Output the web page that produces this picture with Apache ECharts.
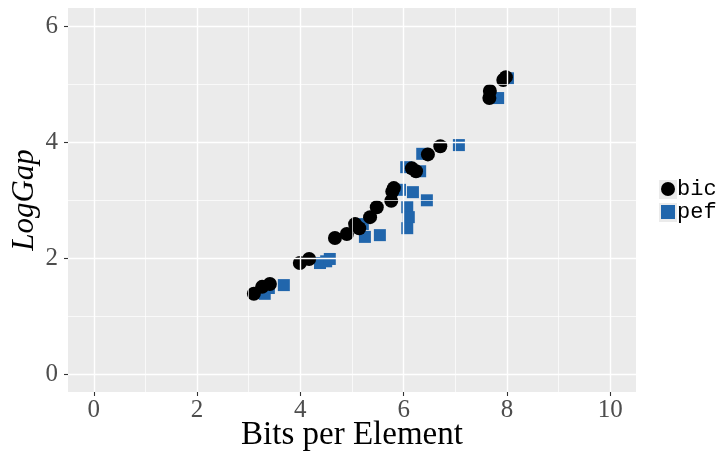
<!DOCTYPE html>
<html>
<head>
<meta charset="utf-8">
<script src="https://cdn.jsdelivr.net/npm/echarts@6/dist/echarts.min.js"></script>
<style>
  html, body { margin: 0; padding: 0; background: #fff; }
  #chart { width: 719px; height: 451px; }
</style>
</head>
<body>
<div id="chart"></div>
<script>
// 数据：从图上读出来的点 (Bits per Element, LogGap)
const bicX = [3.10, 3.26, 3.41, 3.99, 4.17, 4.67, 4.90, 5.06, 5.14, 5.35, 5.48,
              5.76, 5.78, 5.81, 6.16, 6.24, 6.47, 6.71, 7.66, 7.67, 7.93, 7.98];
const bicY = [1.39, 1.51, 1.56, 1.92, 1.99, 2.35, 2.42, 2.59, 2.52, 2.71, 2.88,
              2.99, 3.15, 3.21, 3.55, 3.50, 3.79, 3.93, 4.76, 4.88, 5.07, 5.12];
const pefX = [3.31, 3.39, 3.68, 4.38, 4.50, 4.57, 5.21, 5.25, 5.54, 5.93, 6.05,
              6.18, 6.07, 6.10, 6.07, 6.45, 6.32, 6.36, 7.07, 7.83, 8.02];
const pefY = [1.39, 1.49, 1.54, 1.92, 1.95, 1.99, 2.59, 2.37, 2.40, 3.18, 3.57,
              3.14, 2.88, 2.71, 2.52, 3.00, 3.50, 3.80, 3.95, 4.76, 5.10];
const xTicks = [0, 2, 4, 6, 8, 10];
const xMinor = [1, 3, 5, 7, 9];
const yTicks = [0, 2, 4, 6];
const yMinor = [1, 3, 5];

const zip = (xs, ys) => xs.map((x, i) => [x, ys[i]]);

// 网格线用 markLine 画（主线粗一点，次线细一点）
const gridLines = [].concat(
    xTicks.map(v => ({ xAxis: v, lineStyle: { width: 1.4 } })),
    xMinor.map(v => ({ xAxis: v, lineStyle: { width: 0.7 } })),
    yTicks.map(v => ({ yAxis: v, lineStyle: { width: 1.4 } })),
    yMinor.map(v => ({ yAxis: v, lineStyle: { width: 0.7 } }))
);

const serif = 'Liberation Serif';
const labelStyle = { color: '#4d4d4d', fontSize: 25, fontFamily: serif };
// 轴线不画，但不能贴在 0 上，否则刻度跑到面板里
const noLine = { show: false, onZero: false };
const tickStyle = { show: true, length: 4, lineStyle: { color: '#333333', width: 1.1 } };

let chart = echarts.init(document.getElementById('chart'));
chart.setOption({
    animation: false,
    grid: {
        left: 68, right: 83, top: 8, bottom: 59,
        outerBoundsMode: 'none', containLabel: false,
        show: true, backgroundColor: '#ebebeb', borderWidth: 0
    },
    // 图例键的灰色底块
    graphic: [
        { type: 'rect', left: 659, top: 180, shape: { width: 18, height: 19 }, style: { fill: '#ebebeb' }, silent: true },
        { type: 'rect', left: 659, top: 203, shape: { width: 18, height: 19 }, style: { fill: '#ebebeb' }, silent: true }
    ],
    legend: {
        orient: 'vertical',
        left: 661, top: 178, padding: 0,
        itemWidth: 14, itemHeight: 14, itemGap: 1,
        textStyle: { fontFamily: 'Liberation Mono', fontSize: 22, lineHeight: 22, color: '#000', padding: [0, 0, 0, -3] },
        data: [{ name: 'bic', icon: 'circle' }, { name: 'pef', icon: 'rect' }]
    },
    xAxis: {
        type: 'value', min: -0.5, max: 10.5,
        name: 'Bits per Element', nameLocation: 'middle', nameGap: 27, nameMoveOverlap: false,
        nameTextStyle: { fontFamily: serif, fontSize: 33, color: '#000' },
        axisLine: noLine,
        axisTick: { ...tickStyle, customValues: xTicks },
        axisLabel: { customValues: xTicks, margin: 6, ...labelStyle },
        splitLine: { show: false }
    },
    yAxis: {
        type: 'value', min: -0.3, max: 6.31,
        name: 'LogGap', nameLocation: 'middle', nameGap: 28, nameMoveOverlap: false,
        nameTextStyle: { fontFamily: serif, fontStyle: 'italic', fontSize: 31, color: '#000' },
        axisLine: noLine,
        axisTick: { ...tickStyle, customValues: yTicks },
        axisLabel: { customValues: yTicks, margin: 10, ...labelStyle },
        splitLine: { show: false }
    },
    series: [
        {
            name: 'grid', type: 'scatter', data: [], z: 1, silent: true,
            markLine: {
                silent: true, symbol: 'none', label: { show: false },
                lineStyle: { color: '#fff', type: 'solid' },
                data: gridLines
            }
        },
        {
            name: 'pef', type: 'scatter', symbol: 'rect', symbolSize: 12,
            itemStyle: { color: '#2166ac', opacity: 1 }, z: 3,
            data: zip(pefX, pefY)
        },
        {
            name: 'bic', type: 'scatter', symbol: 'circle', symbolSize: 14,
            itemStyle: { color: '#000', opacity: 1 }, z: 4,
            data: zip(bicX, bicY)
        }
    ]
});
</script>
</body>
</html>
